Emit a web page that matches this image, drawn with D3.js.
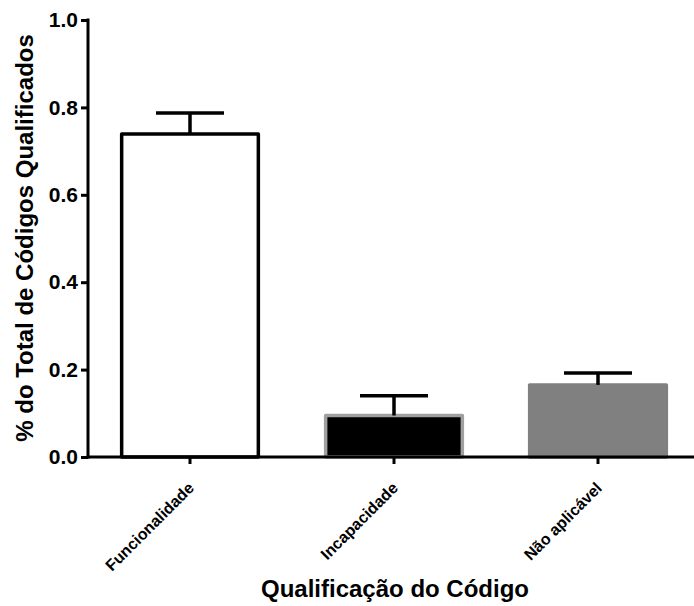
<!DOCTYPE html>
<html>
<head>
<meta charset="utf-8">
<script src="https://cdn.jsdelivr.net/npm/d3@7"></script>
<style>
  body { margin: 0; background: #fff; }
  svg text { font-family: "Liberation Sans", Arial, sans-serif; font-weight: bold; }
</style>
</head>
<body>
<svg id="chart" width="694" height="606"></svg>
<script>
const categories = ["Funcionalidade", "Incapacidade", "Não aplicável"];
const means = [0.739, 0.095, 0.165];
const errors = [0.048, 0.045, 0.027];
const fills = ["#ffffff", "#000000", "#808080"];
const strokes = ["#000000", "#a0a0a0", "#808080"];
const yTicks = [0.0, 0.2, 0.4, 0.6, 0.8, 1.0];
const yTitle = "% do Total de Códigos Qualificados";
const xTitle = "Qualificação do Código";

const svg = d3.select("#chart");
const x = d3.scaleBand().domain(categories).range([88, 700]).paddingInner(0).paddingOuter(0);
const y = d3.scaleLinear().domain([0, 1]).range([457, 20]);
const barW = x.bandwidth() * 0.67;
const capHalf = 34;

// bars
svg.selectAll("rect.bar").data(categories).join("rect")
  .attr("class", "bar")
  .attr("x", (d) => x(d) + x.bandwidth() / 2 - barW / 2)
  .attr("width", barW)
  .attr("y", (d, i) => y(means[i]))
  .attr("height", (d, i) => y(0) - y(means[i]))
  .attr("fill", (d, i) => fills[i])
  .attr("stroke", (d, i) => strokes[i])
  .attr("stroke-width", 3.5)
  .attr("stroke-linejoin", "round");

// error bars
const eb = svg.append("g").attr("stroke", "#000").attr("stroke-width", 3.5);
categories.forEach((c, i) => {
  const cx = x(c) + x.bandwidth() / 2;
  eb.append("line").attr("x1", cx).attr("x2", cx).attr("y1", y(means[i])).attr("y2", y(means[i] + errors[i]));
  eb.append("line").attr("x1", cx - capHalf).attr("x2", cx + capHalf).attr("y1", y(means[i] + errors[i])).attr("y2", y(means[i] + errors[i]));
});

// y axis
const yAxis = svg.append("g").attr("transform", "translate(88,0)")
  .call(d3.axisLeft(y).tickValues(yTicks).tickFormat(d3.format(".1f")).tickSize(7).tickPadding(3).tickSizeOuter(0));
yAxis.select(".domain").attr("stroke", "#000").attr("stroke-width", 3).attr("d", `M0,${y(1) - 1.5}V${y(0) + 1.5}`);
yAxis.selectAll(".tick line").attr("stroke", "#000").attr("stroke-width", 3);
yAxis.selectAll(".tick text").attr("font-size", 21).attr("fill", "#000").style("font-family", "'Liberation Sans', Arial, sans-serif").style("font-weight", "bold");

// x axis
const xAxis = svg.append("g").attr("transform", `translate(0,${y(0)})`)
  .call(d3.axisBottom(x).tickSize(7).tickSizeOuter(0).tickFormat(""));
xAxis.select(".domain").attr("stroke", "#000").attr("stroke-width", 3).attr("d", "M86.5,0H694");
xAxis.selectAll(".tick line").attr("stroke", "#000").attr("stroke-width", 3);

// rotated category labels
xAxis.selectAll(".tick").append("text")
  .attr("transform", "translate(5,32) rotate(-45)")
  .attr("text-anchor", "end")
  .attr("font-size", 16)
  .attr("fill", "#000")
  .style("font-family", "'Liberation Sans', Arial, sans-serif")
  .style("font-weight", "bold")
  .text((d) => d);

// titles
svg.append("text")
  .attr("transform", "translate(33,238) rotate(-90)")
  .attr("text-anchor", "middle")
  .attr("font-size", 24)
  .attr("fill", "#000")
  .text(yTitle);

svg.append("text")
  .attr("x", 395).attr("y", 597)
  .attr("text-anchor", "middle")
  .attr("font-size", 24)
  .attr("fill", "#000")
  .text(xTitle);
</script>
</body>
</html>
